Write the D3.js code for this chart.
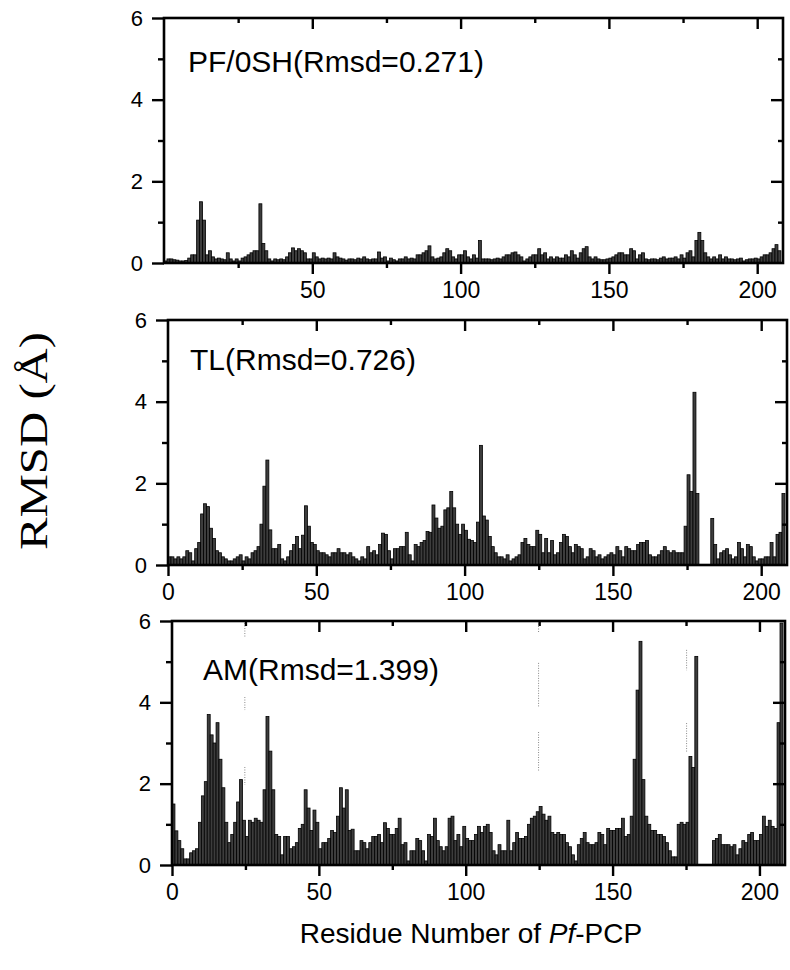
<!DOCTYPE html>
<html>
<head>
<meta charset="utf-8">
<script src="https://d3js.org/d3.v7.min.js"></script>
<style>
body { margin: 0; background: #fff; }
#chart { width: 790px; height: 970px; }
.tick text { font-family: "Liberation Sans", Arial, Helvetica, sans-serif; fill: #000; }
.tick line { stroke: #000; stroke-width: 2.4px; }
.bar { fill: #3d3d3d; stroke: #000; stroke-width: 0.8px; }
.frame { fill: none; stroke: #000; stroke-width: 2.6px; }
.plabel { font-family: "Liberation Sans", Arial, Helvetica, sans-serif; font-size: 30px; }
</style>
</head>
<body>
<div id="chart"></div>
<script>
// residue index i covers [i, i+1] on the x axis
var pf0sh = [0.05,0.1,0.1,0.08,0.07,0.05,0.05,0.06,0.12,0.2,0.2,1.05,1.5,1.05,0.2,0.3,0.15,0.1,0.12,0.1,
  0.08,0.25,0.1,0.05,0.1,0.05,0.12,0.15,0.2,0.25,0.3,0.3,1.45,0.48,0.3,0.1,0.05,0.1,0.08,0.1,
  0.08,0.15,0.25,0.37,0.3,0.35,0.3,0.25,0.1,0.1,0.25,0.15,0.1,0.12,0.1,0.12,0.1,0.25,0.15,0.12,
  0.1,0.07,0.1,0.1,0.08,0.12,0.1,0.15,0.1,0.08,0.1,0.1,0.27,0.12,0.15,0.05,0.12,0.08,0.05,0.1,
  0.1,0.15,0.1,0.12,0.1,0.2,0.2,0.25,0.3,0.42,0.15,0.1,0.12,0.15,0.25,0.35,0.3,0.15,0.1,0.2,
  0.2,0.3,0.15,0.1,0.2,0.12,0.55,0.1,0.1,0.1,0.08,0.1,0.12,0.1,0.15,0.2,0.2,0.25,0.27,0.2,
  0.15,0.05,0.1,0.15,0.2,0.2,0.35,0.2,0.25,0.1,0.15,0.1,0.15,0.12,0.12,0.2,0.15,0.3,0.2,0.12,
  0.25,0.35,0.4,0.15,0.1,0.15,0.1,0.08,0.08,0.1,0.12,0.15,0.2,0.25,0.25,0.2,0.2,0.35,0.3,0.1,
  0.2,0.25,0.1,0.08,0.1,0.1,0.08,0.12,0.15,0.1,0.12,0.12,0.15,0.1,0.2,0.12,0.25,0.3,0.15,0.55,
  0.75,0.55,0.25,0.15,0.1,0.15,0.1,0.2,0.1,0.15,0.1,0.1,0.08,0.1,0.12,0.05,0.08,0.1,0.1,0.12,
  0.1,0.15,0.2,0.2,0.25,0.35,0.45,0.3];

var tl = [0.2,0.2,0.15,0.2,0.15,0.2,0.35,0.3,0.1,0.4,0.55,1.25,1.5,1.43,0.9,0.65,0.35,0.3,0.2,0.15,
  0.1,0.1,0.15,0.2,0.25,0.1,0.2,0.15,0.3,0.35,0.45,1.0,1.93,2.57,0.86,0.4,0.4,0.5,0.15,0.1,
  0.2,0.35,0.5,0.7,0.4,0.73,1.45,0.95,0.55,0.5,0.35,0.3,0.3,0.25,0.2,0.3,0.3,0.4,0.3,0.3,
  0.25,0.3,0.2,0.15,0.1,0.2,0.15,0.45,0.3,0.35,0.25,0.5,0.78,0.75,0.35,0.15,0.4,0.4,0.45,0.45,
  0.8,0.25,0.1,0.5,0.45,0.55,0.6,0.82,0.8,1.47,1.15,0.9,0.95,1.35,1.4,1.8,1.4,1.0,0.75,1.0,
  0.85,0.63,0.6,0.55,1.05,2.93,1.2,1.1,0.7,0.45,0.3,0.2,0.2,0.15,0.25,0.1,0.15,0.2,0.25,0.55,
  0.65,0.5,0.45,0.45,0.85,0.75,0.3,0.65,0.3,0.6,0.25,0.3,0.55,0.75,0.7,0.45,0.3,0.5,0.45,0.4,
  0.15,0.2,0.4,0.35,0.2,0.25,0.15,0.2,0.25,0.3,0.25,0.45,0.35,0.2,0.45,0.4,0.35,0.35,0.5,0.55,
  0.55,0.6,0.25,0.2,0.2,0.25,0.35,0.45,0.35,0.3,0.35,0.3,0.3,0.3,0.95,2.21,1.8,4.23,1.75,0,
  0,0,0,1.14,0.5,0.15,0.3,0.35,0.4,0.25,0.15,0.2,0.55,0.4,0.2,0.5,0.45,0.2,0.1,0.15,
  0.15,0.2,0.2,0.55,0.2,0.75,0.8,1.75];

var am = [1.5,0.84,0.6,0.4,0.15,0.15,0.3,0.35,0.4,1.05,1.7,2.05,3.7,3.2,3.0,3.5,2.6,1.9,1.05,0.55,
  0.75,1.05,1.55,2.1,1.1,0.7,1.1,1.05,1.15,1.1,1.05,1.85,3.65,2.8,1.85,0.75,0.7,0.25,0.7,0.7,
  0.4,0.45,0.55,0.9,1.0,1.85,1.4,0.85,1.35,1.05,0.4,0.55,0.55,0.65,0.85,0.8,1.2,1.9,1.4,1.85,
  0.85,0.88,0.35,0.35,0.6,0.55,0.4,0.55,0.7,0.7,0.75,0.55,1.04,0.9,0.75,0.75,0.9,1.15,0.5,0.55,
  0.1,0.35,0.35,0.65,0.6,0.35,0.1,0.75,0.7,1.15,0.6,0.45,0.35,0.45,1.15,1.2,0.6,0.75,0.45,0.95,
  0.65,0.6,0.6,0.75,0.95,0.8,0.95,1.0,0.8,0.35,0.25,0.5,0.35,0.35,1.1,0.35,0.55,0.8,0.65,0.65,
  0.7,1.0,1.15,1.2,1.31,1.44,1.25,1.1,1.2,0.8,0.75,0.8,0.75,0.75,0.55,0.45,0.25,0.1,0.5,0.65,
  0.8,0.55,0.5,0.5,0.55,0.8,0.75,0.5,0.9,0.85,0.85,0.9,0.9,1.15,0.7,0.75,1.2,2.6,4.3,5.5,
  2.1,1.2,1.0,0.85,0.85,0.75,0.75,0.7,0.55,0.35,0.2,0.2,1.0,1.05,1.0,1.05,2.67,2.4,5.13,0,
  0,0,0,0,0.6,0.65,0.75,0.5,0.5,0.5,0.45,0.5,0.25,0.4,0.6,0.55,0.75,0.8,0.6,0.6,
  0.75,1.2,0.95,1.1,0.95,0.9,3.5,5.95];

// faint dotted scan marks in the AM panel: residue, from, to (in Å)
var amMarkRes = [24.8, 24.8, 24.8, 124.8, 124.8, 124.8, 175.2, 175.2];
var amMarkFrom = [5.95, 4.13, 2.41, 6.0, 4.97, 3.27, 5.29, 3.49];
var amMarkTo = [5.6, 3.81, 1.97, 5.7, 3.88, 2.29, 4.79, 2.78];

var panelNames = ["PF/0SH(Rmsd=0.271)", "TL(Rmsd=0.726)", "AM(Rmsd=1.399)"];
var panelSeries = [pf0sh, tl, am];
var xMajor = [[50, 100, 150, 200], [0, 50, 100, 150, 200], [0, 50, 100, 150, 200]];
var xMinor = [25, 75, 125, 175];
var yMajor = [0, 2, 4, 6];
var yMinor = [1, 3, 5];
var xMax = 208.7, yMax = 6;

var boxes = [
  {left: 164, right: 783, top: 18, bottom: 263, lx: 24, ly: 54},
  {left: 168, right: 787, top: 320, bottom: 565, lx: 22, ly: 50},
  {left: 172, right: 785, top: 621, bottom: 865, lx: 31, ly: 59}
];

var svg = d3.select("#chart").append("svg")
    .attr("width", 790)
    .attr("height", 970);

boxes.forEach(function(b, p) {
    var w = b.right - b.left, h = b.bottom - b.top;
    var x = d3.scaleLinear().domain([0, xMax]).range([0, w]);
    var y = d3.scaleLinear().domain([0, yMax]).range([h, 0]);
    var g = svg.append("g").attr("transform", "translate(" + b.left + "," + b.top + ")");
    var vals = panelSeries[p];

    g.selectAll("rect.bar")
        .data(vals)
      .enter().append("rect")
        .attr("class", "bar")
        .attr("x", function(d, i) { return x(i); })
        .attr("width", function(d, i) { return x(i + 1) - x(i); })
        .attr("y", function(d) { return y(d); })
        .attr("height", function(d) { return y(0) - y(d); })
        .style("display", function(d) { return d > 0 ? null : "none"; });

    if (p == 2) {
        g.selectAll("line.mark")
            .data(amMarkRes)
          .enter().append("line")
            .attr("x1", function(d) { return x(d); })
            .attr("x2", function(d) { return x(d); })
            .attr("y1", function(d, i) { return y(amMarkFrom[i]); })
            .attr("y2", function(d, i) { return y(amMarkTo[i]); })
            .attr("stroke", "#888")
            .attr("stroke-width", 1)
            .attr("stroke-dasharray", "1,1.5");
    }

    function clean(sel) { sel.select(".domain").remove(); }

    // bottom: ticks point out
    g.append("g").attr("transform", "translate(0," + h + ")")
        .call(d3.axisBottom(x).tickValues(xMajor[p]).tickSize(11).tickPadding(8).tickFormat(d3.format("d")))
        .call(clean)
        .selectAll("text").style("font-size", "23px");
    g.append("g").attr("transform", "translate(0," + h + ")")
        .call(d3.axisBottom(x).tickValues(xMinor).tickSize(5).tickFormat(""))
        .call(clean);
    // top: ticks point in
    g.append("g")
        .call(d3.axisTop(x).tickValues([50, 100, 150, 200]).tickSize(-11).tickFormat(""))
        .call(clean);
    g.append("g")
        .call(d3.axisTop(x).tickValues(xMinor).tickSize(-5).tickFormat(""))
        .call(clean);
    // left: ticks point out
    g.append("g")
        .call(d3.axisLeft(y).tickValues(yMajor).tickSize(12).tickPadding(9).tickFormat(d3.format("d")))
        .call(clean)
        .selectAll("text").style("font-size", "22px");
    g.append("g")
        .call(d3.axisLeft(y).tickValues(yMinor).tickSize(6).tickFormat(""))
        .call(clean);
    // right: ticks point in
    g.append("g").attr("transform", "translate(" + w + ",0)")
        .call(d3.axisRight(y).tickValues([2, 4]).tickSize(-12).tickFormat(""))
        .call(clean);
    g.append("g").attr("transform", "translate(" + w + ",0)")
        .call(d3.axisRight(y).tickValues(yMinor).tickSize(-5).tickFormat(""))
        .call(clean);

    g.append("rect").attr("class", "frame")
        .attr("width", w).attr("height", h);

    g.append("text").attr("class", "plabel")
        .attr("x", b.lx).attr("y", b.ly)
        .text(panelNames[p]);
});

svg.append("text")
    .attr("transform", "translate(47,441) rotate(-90) scale(1.22,1)")
    .attr("text-anchor", "middle")
    .style("font-family", "'Liberation Serif', 'Times New Roman', serif")
    .style("font-size", "40px")
    .text("RMSD (Å)");

var xt = svg.append("text")
    .attr("x", 471).attr("y", 943)
    .attr("text-anchor", "middle")
    .style("font-family", "'Liberation Sans', Arial, Helvetica, sans-serif")
    .style("font-size", "28px");
xt.append("tspan").text("Residue Number of ");
xt.append("tspan").style("font-style", "italic").text("Pf");
xt.append("tspan").text("-PCP");
</script>
</body>
</html>
